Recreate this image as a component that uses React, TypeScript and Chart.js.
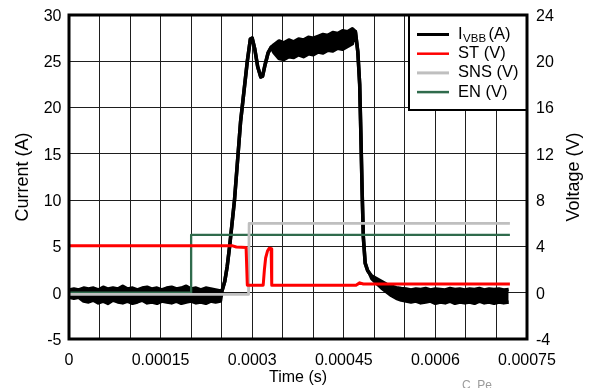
import React, { useEffect, useRef } from 'react';
import { Chart, registerables } from 'chart.js';
Chart.register(...registerables);

// ---- axes ----
const X_MIN = 0;
const X_MAX = 0.00075;
const X_GRID_STEP = 0.00005;
const X_TICK_VALUES = [0, 0.00015, 0.0003, 0.00045, 0.0006, 0.00075];
const X_TICK_LABELS = ['0', '0.00015', '0.0003', '0.00045', '0.0006', '0.00075'];
const I_TICKS = [-5, 0, 5, 10, 15, 20, 25, 30];
const V_TICKS = [-4, 0, 4, 8, 12, 16, 20, 24];

// ---- I_VBB (A): noisy parts given as upper / lower envelope of the trace ----
const ENV_STEP = 0.000008;
const IVBB_PRE_START = 0;
const IVBB_PRE_HI = [0.3, 0.4, 0.3, 0.5, 0.4, 0.5, 0.3, 0.6, 0.4, 0.5, 0.4, 0.7, 0.4, 0.5, 0.3, 0.5, 0.6, 0.4, 0.5, 0.3, 0.5, 0.6, 0.4, 0.5, 0.7, 0.4, 0.5, 0.3, 0.5, 0.4, 0.3, 0.2];
const IVBB_PRE_LO = [-0.5, -0.6, -0.5, -0.9, -1.0, -0.8, -1.1, -0.9, -1.15, -0.8, -1.0, -1.1, -0.9, -1.15, -1.0, -0.8, -1.1, -1.0, -1.15, -0.9, -1.0, -1.1, -0.9, -1.15, -1.0, -0.9, -1.1, -1.0, -1.15, -0.9, -1.0, -0.9];
const IVBB_RISE_T = [0.000251, 0.000255, 0.000259, 0.000263, 0.000271, 0.000281, 0.000292, 0.000297, 0.0003, 0.000304, 0.000309, 0.000314, 0.000317, 0.000321, 0.000326, 0.000331];
const IVBB_RISE = [0.3, 1.2, 2.8, 5, 10, 18.5, 25, 27.4, 27.5, 26.4, 24.4, 23.3, 23.4, 24.6, 25.9, 26.5];
const IVBB_PLAT_START = 0.000336;
const IVBB_PLAT_HI = [26.8, 27.2, 27.0, 27.3, 27.1, 27.4, 27.3, 27.6, 27.5, 27.7, 27.9, 27.8, 28.1, 28.0, 28.3, 28.2, 28.5];
const IVBB_PLAT_LO = [25.9, 25.3, 25.2, 25.5, 25.4, 25.7, 25.5, 25.8, 25.7, 26.0, 25.9, 26.2, 26.1, 26.4, 26.3, 26.6, 26.9];
const IVBB_FALL_T = [0.000469, 0.000473, 0.000476, 0.000478, 0.00048, 0.000482, 0.000485, 0.000489, 0.000492];
const IVBB_FALL = [28.2, 26.0, 22.5, 17, 11, 6, 3.2, 2.4, 2.1];
const IVBB_TAIL_START = 0.000496;
const IVBB_TAIL_HI = [1.8, 1.5, 1.2, 0.9, 0.7, 0.55, 0.45, 0.4, 0.3, 0.4, 0.35, 0.45, 0.3, 0.4, 0.35, 0.3, 0.45, 0.35, 0.4, 0.3, 0.4, 0.35, 0.45, 0.3, 0.4, 0.35, 0.4, 0.3, 0.35];
const IVBB_TAIL_LO = [1.5, 1.0, 0.5, 0.1, -0.3, -0.6, -0.8, -0.9, -1.0, -0.9, -1.1, -1.0, -0.9, -1.15, -1.0, -1.1, -0.9, -1.15, -1.0, -1.1, -1.0, -1.15, -0.9, -1.1, -1.0, -1.15, -1.0, -1.1, -1.0];

// ---- ST (V) ----
const ST_T = [0, 0.000268, 0.000274, 0.00029, 0.000292, 0.000318, 0.00032, 0.000322, 0.000325, 0.000328, 0.000331, 0.000332, 0.00047, 0.000476, 0.000482, 0.000722];
const ST_V = [4.05, 4.05, 3.95, 3.9, 0.65, 0.65, 2.0, 3.0, 3.6, 3.85, 3.8, 0.65, 0.65, 0.85, 0.75, 0.75];

// ---- SNS (V) ----
const SNS_T = [0, 0.000294, 0.000295, 0.000722];
const SNS_V = [-0.15, -0.15, 6.0, 6.0];

// ---- EN (V) ----
const EN_T = [0, 0.0002, 0.0002, 0.000722];
const EN_V = [0, 0, 5, 5];

const COLORS = { ivbb: '#000000', st: '#ff0000', sns: '#bfbfbf', en: '#2f6b4c' };
const FONT = '"Liberation Sans", Arial, Helvetica, sans-serif';

const sampled = (start: number, vals: number[]) => vals.map((v, i) => ({ x: start + i * ENV_STEP, y: v }));
const paired = (ts: number[], vs: number[]) => ts.map((t, i) => ({ x: t, y: vs[i] }));

const overlay = {
  id: 'overlay',
  afterDraw(chart: any) {
    const { ctx, chartArea: a, scales } = chart;
    ctx.save();

    // legend box
    const lx = a.right - 118;
    const ly = a.top;
    ctx.fillStyle = '#fff';
    ctx.fillRect(lx, ly, a.right - lx, 95);
    ctx.strokeStyle = '#000';
    ctx.lineWidth = 2;
    ctx.strokeRect(lx, ly, a.right - lx, 95);

    const rows = [
      { color: COLORS.ivbb, w: 3, text: '' },
      { color: COLORS.st, w: 2.5, text: 'ST (V)' },
      { color: COLORS.sns, w: 3, text: 'SNS (V)' },
      { color: COLORS.en, w: 2.5, text: 'EN (V)' },
    ];
    rows.forEach((r, i) => {
      const y = ly + 19.5 + i * 19.2;
      ctx.strokeStyle = r.color;
      ctx.lineWidth = r.w;
      ctx.beginPath();
      ctx.moveTo(a.right - 110, y);
      ctx.lineTo(a.right - 78, y);
      ctx.stroke();
      ctx.fillStyle = '#000';
      ctx.textAlign = 'left';
      ctx.textBaseline = 'middle';
      const tx = a.right - 69;
      if (i === 0) {
        ctx.font = `16.5px ${FONT}`;
        ctx.fillText('I', tx, y);
        let x = tx + ctx.measureText('I').width + 0.5;
        ctx.font = `11.5px ${FONT}`;
        ctx.fillText('VBB', x, y + 4.5);
        x += ctx.measureText('VBB').width + 2.5;
        ctx.font = `16.5px ${FONT}`;
        ctx.fillText('(A)', x, y);
      } else {
        ctx.font = `16.5px ${FONT}`;
        ctx.fillText(r.text, tx, y);
      }
    });

    // frame
    ctx.strokeStyle = '#000';
    ctx.lineWidth = 3;
    ctx.strokeRect(a.left, a.top, a.right - a.left, a.bottom - a.top);

    // tick labels
    ctx.fillStyle = '#000';
    ctx.font = `16px ${FONT}`;
    ctx.textBaseline = 'alphabetic';
    ctx.textAlign = 'center';
    X_TICK_VALUES.forEach((v, i) => ctx.fillText(X_TICK_LABELS[i], scales.x.getPixelForValue(v), a.bottom + 25.5));
    ctx.textAlign = 'right';
    I_TICKS.forEach((v) => ctx.fillText(String(v), a.left - 7.5, scales.y.getPixelForValue(v) + 5.8));
    ctx.textAlign = 'left';
    V_TICKS.forEach((v) => ctx.fillText(String(v), a.right + 9, scales.y1.getPixelForValue(v) + 5.8));

    // axis titles
    ctx.textAlign = 'center';
    ctx.font = `16px ${FONT}`;
    ctx.fillText('Time (s)', (a.left + a.right) / 2, 381.5);
    const midY = (a.top + a.bottom) / 2;
    ctx.font = `18px ${FONT}`;
    ctx.save();
    ctx.translate(27.5, midY);
    ctx.rotate(-Math.PI / 2);
    ctx.fillText('Current (A)', 0, 0);
    ctx.restore();
    ctx.save();
    ctx.translate(578.5, midY);
    ctx.rotate(-Math.PI / 2);
    ctx.fillText('Voltage (V)', 0, 0);
    ctx.restore();

    // watermark
    ctx.fillStyle = '#9a9a9a';
    ctx.font = `12px ${FONT}`;
    ctx.textAlign = 'left';
    ctx.textBaseline = 'top';
    ctx.fillText('C_Pe', 462, 380);

    ctx.restore();
  },
};

export default function App() {
  const ref = useRef<HTMLCanvasElement | null>(null);
  useEffect(() => {
    document.body.style.margin = '0';
    const hi = [
      ...sampled(IVBB_PRE_START, IVBB_PRE_HI),
      ...paired(IVBB_RISE_T, IVBB_RISE),
      ...sampled(IVBB_PLAT_START, IVBB_PLAT_HI),
      ...paired(IVBB_FALL_T, IVBB_FALL),
      ...sampled(IVBB_TAIL_START, IVBB_TAIL_HI),
    ];
    const lo = [
      ...sampled(IVBB_PRE_START, IVBB_PRE_LO),
      ...paired(IVBB_RISE_T, IVBB_RISE),
      ...sampled(IVBB_PLAT_START, IVBB_PLAT_LO),
      ...paired(IVBB_FALL_T, IVBB_FALL),
      ...sampled(IVBB_TAIL_START, IVBB_TAIL_LO),
    ];
    const chart = new Chart(ref.current as HTMLCanvasElement, {
      type: 'line',
      data: {
        datasets: [
          { label: 'IVBB max', data: hi, borderColor: COLORS.ivbb, borderWidth: 3.5, yAxisID: 'y', order: 5, fill: false },
          { label: 'IVBB min', data: lo, borderColor: COLORS.ivbb, backgroundColor: COLORS.ivbb, borderWidth: 3.5, yAxisID: 'y', order: 6, fill: '-1' },
          { label: 'ST (V)', data: paired(ST_T, ST_V), borderColor: COLORS.st, borderWidth: 3, yAxisID: 'y1', order: 1, fill: false },
          { label: 'SNS (V)', data: paired(SNS_T, SNS_V), borderColor: COLORS.sns, borderWidth: 2.8, yAxisID: 'y1', order: 2, fill: false },
          { label: 'EN (V)', data: paired(EN_T, EN_V), borderColor: COLORS.en, borderWidth: 2.3, yAxisID: 'y1', order: 3, fill: false },
        ] as any,
      },
      options: {
        animation: false,
        responsive: false,
        devicePixelRatio: 1,
        layout: { padding: { top: 15, left: 0, right: 0, bottom: 0 } },
        elements: { point: { radius: 0 }, line: { tension: 0, borderJoinStyle: 'round', borderCapStyle: 'butt' } },
        plugins: { legend: { display: false }, tooltip: { enabled: false } },
        scales: {
          x: {
            type: 'linear',
            min: X_MIN,
            max: X_MAX,
            afterBuildTicks: (s: any) => {
              const n = Math.round((X_MAX - X_MIN) / X_GRID_STEP);
              s.ticks = Array.from({ length: n + 1 }, (_, i) => ({ value: X_MIN + i * X_GRID_STEP }));
            },
            afterFit: (s: any) => { s.height = 49; },
            ticks: { display: false },
            grid: { color: '#1e1e1e', lineWidth: 1, drawTicks: false },
            border: { display: false },
          },
          y: {
            type: 'linear',
            position: 'left',
            min: -5,
            max: 30,
            afterBuildTicks: (s: any) => { s.ticks = I_TICKS.map((v) => ({ value: v })); },
            afterFit: (s: any) => { s.width = 69; },
            ticks: { display: false },
            grid: { color: '#1e1e1e', lineWidth: 1, drawTicks: false },
            border: { display: false },
          },
          y1: {
            type: 'linear',
            position: 'right',
            min: -4,
            max: 24,
            afterBuildTicks: (s: any) => { s.ticks = V_TICKS.map((v) => ({ value: v })); },
            afterFit: (s: any) => { s.width = 64; },
            ticks: { display: false },
            grid: { display: false, drawOnChartArea: false, drawTicks: false },
            border: { display: false },
          },
        },
      } as any,
      plugins: [overlay],
    });
    return () => chart.destroy();
  }, []);
  return (
    <div style={{ width: 591, height: 388, position: 'relative', background: '#fff' }}>
      <canvas ref={ref} width={591} height={388} style={{ display: 'block' }} />
    </div>
  );
}
